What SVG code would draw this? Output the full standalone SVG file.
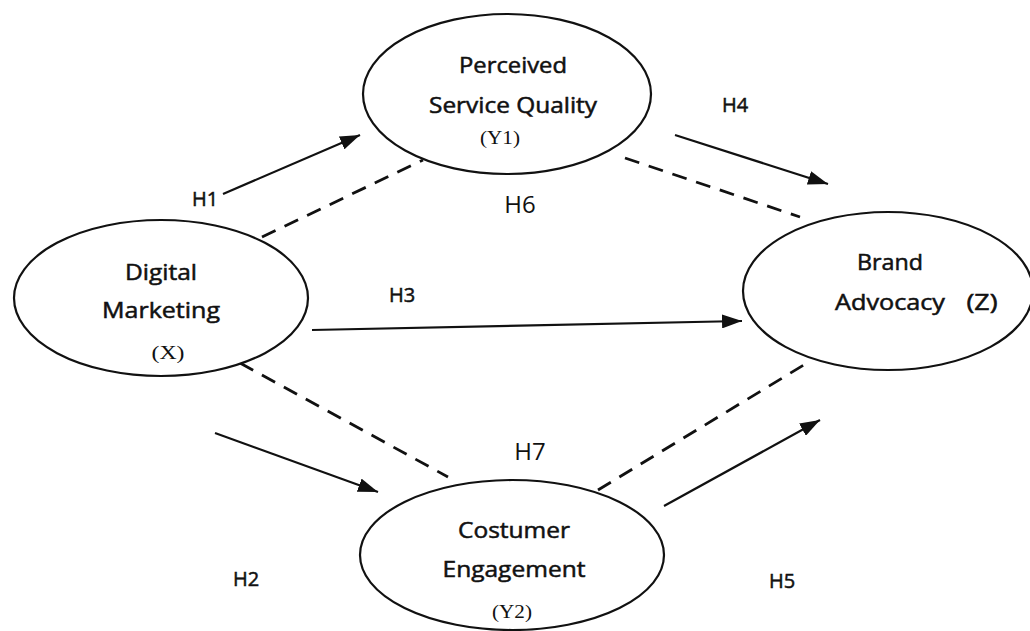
<svg xmlns="http://www.w3.org/2000/svg" width="1030" height="631" viewBox="0 0 1030 631">
<style>
.node{fill:#fff;stroke:#111;stroke-width:2.2}
.t{font-family:"Open Sans","Liberation Sans",sans-serif;font-size:21px;fill:#111;stroke:#111;stroke-width:0.5;text-anchor:middle}
.s{font-family:"Liberation Serif",serif;font-size:19px;fill:#111;text-anchor:middle}
.h{font-family:"Open Sans","Liberation Sans",sans-serif;font-size:20px;fill:#111;stroke:#111;stroke-width:0.5;text-anchor:middle}
.hb{font-family:"Open Sans","Liberation Sans",sans-serif;font-size:24px;fill:#111;text-anchor:middle}
.solid{stroke:#111;stroke-width:2.2;fill:none}
.dash{stroke:#111;stroke-width:2.8;fill:none;stroke-dasharray:15 10}
</style>
<defs>
<marker id="a" viewBox="0 0 20 14" refX="20" refY="7" markerWidth="20" markerHeight="14" markerUnits="userSpaceOnUse" orient="auto">
<path d="M0,0 L20,7 L0,14 z" fill="#111"/>
</marker>
</defs>
<g id="connectors">
<line class="solid" x1="223" y1="194" x2="360" y2="135" marker-end="url(#a)"/>
<line class="dash" x1="262" y1="237" x2="423" y2="160"/>
<line class="dash" x1="625" y1="158" x2="800" y2="217"/>
<line class="solid" x1="675" y1="135" x2="828" y2="184" marker-end="url(#a)"/>
<line class="solid" x1="312" y1="330" x2="742" y2="321" marker-end="url(#a)"/>
<line class="dash" x1="240" y1="363" x2="448" y2="477"/>
<line class="dash" x1="598" y1="490" x2="807" y2="363"/>
<line class="solid" x1="215" y1="433" x2="378" y2="492" marker-end="url(#a)"/>
<line class="solid" x1="664" y1="506" x2="820" y2="420" marker-end="url(#a)"/>
</g>
<g id="labels">
<text class="h" x="205" y="206">H1</text>
<text class="h" x="735" y="112">H4</text>
<text class="hb" x="520" y="213">H6</text>
<text class="h" x="402" y="302">H3</text>
<text class="hb" x="530" y="460">H7</text>
<text class="h" x="246" y="586">H2</text>
<text class="h" x="782" y="588">H5</text>
</g>
<g id="psq">
<ellipse class="node" cx="507" cy="94" rx="144" ry="80"/>
<text class="t" x="513" y="73" textLength="108" lengthAdjust="spacingAndGlyphs">Perceived</text>
<text class="t" x="513" y="113" textLength="168" lengthAdjust="spacingAndGlyphs">Service Quality</text>
<text class="s" x="500" y="144" textLength="40" lengthAdjust="spacingAndGlyphs">(Y1)</text>
</g>
<g id="dm">
<ellipse class="node" cx="161" cy="298" rx="147" ry="78"/>
<text class="t" x="161" y="280" textLength="72" lengthAdjust="spacingAndGlyphs">Digital</text>
<text class="t" x="161" y="318" textLength="118" lengthAdjust="spacingAndGlyphs">Marketing</text>
<text class="s" x="168" y="359" textLength="33" lengthAdjust="spacingAndGlyphs">(X)</text>
</g>
<g id="ba">
<ellipse class="node" cx="888" cy="291" rx="145" ry="79"/>
<text class="t" x="890" y="270" textLength="66" lengthAdjust="spacingAndGlyphs">Brand</text>
<text class="t" x="890" y="310" textLength="110" lengthAdjust="spacingAndGlyphs">Advocacy</text>
<text class="t" x="982" y="310" font-size="19" textLength="31" lengthAdjust="spacingAndGlyphs">(Z)</text>
</g>
<g id="ce">
<ellipse class="node" cx="512" cy="555" rx="152" ry="75"/>
<text class="t" x="514" y="538" textLength="112" lengthAdjust="spacingAndGlyphs">Costumer</text>
<text class="t" x="514" y="577" textLength="143" lengthAdjust="spacingAndGlyphs">Engagement</text>
<text class="s" x="512" y="618" textLength="40" lengthAdjust="spacingAndGlyphs">(Y2)</text>
</g>
</svg>
